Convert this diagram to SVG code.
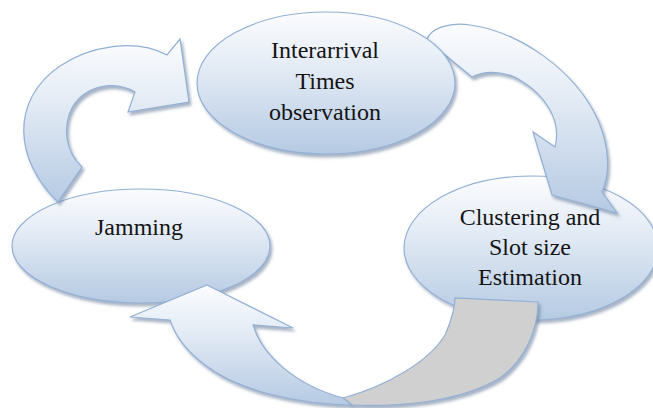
<svg xmlns="http://www.w3.org/2000/svg" width="653" height="408" viewBox="0 0 653 408">
  <defs>
    <linearGradient id="blue" x1="0" y1="0" x2="0" y2="1">
      <stop offset="0" stop-color="#fbfcfe"/>
      <stop offset="0.35" stop-color="#e6edf6"/>
      <stop offset="1" stop-color="#b5cae3"/>
    </linearGradient>
    <filter id="shadow" x="-10%" y="-10%" width="130%" height="130%">
      <feDropShadow dx="2" dy="3" stdDeviation="1.5" flood-color="#5f7594" flood-opacity="0.55"/>
    </filter>
    <style>
      .shape { fill: url(#blue); stroke: #93b0d5; stroke-width: 1.2; filter: url(#shadow); }
      .back { fill: #d0d0d0; stroke: #93b0d5; stroke-width: 1.2; filter: url(#shadow); }
      .label { font-family: "Times New Roman", "Liberation Serif", Tinos, "Noto Serif", "DejaVu Serif", serif; font-size: 24px; fill: #141414; text-anchor: middle; }
    </style>
  </defs>
  <rect width="653" height="408" fill="#ffffff"/>

  <g id="clustering">
    <ellipse class="shape" cx="531" cy="248" rx="127" ry="72"/>
    <text class="label" x="530" y="225">Clustering and</text>
    <text class="label" x="530" y="255">Slot size</text>
    <text class="label" x="530" y="285">Estimation</text>
  </g>

  <g id="jamming">
    <ellipse class="shape" cx="141" cy="246" rx="129" ry="57"/>
    <text class="label" x="139" y="235">Jamming</text>
  </g>

  <g id="connectors">
    <path id="arrow-jam-to-inter" class="shape" d="M58,202 C14,160 10,100 60,66 C90,46 135,38 167,55 L180,39 L189,102 L128,112 L135,92 C115,80 85,85 72,108 C62,128 66,152 82,167 Z"/>
    <path id="arrow-inter-to-clust" class="shape" d="M427,40 C430,28 450,22 470,25 C520,32 575,70 598,120 C610,148 610,175 602,192 L617,213 L552,195 L533,132 L555,147 C562,120 545,95 520,80 C505,71 485,70 472,77 Z"/>
    <g id="arrow-clust-to-jam">
      <path class="back" d="M343,398 C390,385 430,360 445,335 C452,320 455,305 455,298 L538,302 C538,330 525,360 500,378 C460,402 400,407 352,405 Z"/>
      <path class="shape" d="M207,285 L293,328 L253,325 C262,355 295,385 343,398 L352,405 C300,404 240,392 205,365 C185,350 175,335 170,320 L130,317 Z"/>
    </g>
  </g>

  <g id="interarrival">
    <ellipse class="shape" cx="326" cy="83" rx="129" ry="71"/>
    <text class="label" x="325" y="58">Interarrival</text>
    <text class="label" x="325" y="89">Times</text>
    <text class="label" x="325" y="120">observation</text>
  </g>
</svg>
